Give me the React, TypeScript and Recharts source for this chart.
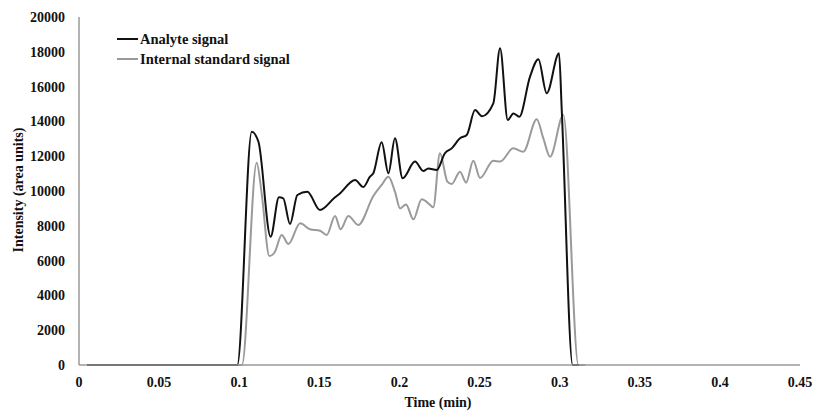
import React from 'react';
import { LineChart, Line, XAxis, YAxis, Label } from 'recharts';

document.body.style.margin = '0';

// analyte (black) trace
const analyteTime = [0.005, 0.0988, 0.1078, 0.112, 0.1196, 0.1248, 0.1275, 0.1317, 0.1363, 0.1425, 0.1504, 0.1598, 0.1625, 0.1723, 0.1775, 0.1816, 0.1837, 0.1889, 0.1931, 0.1972, 0.202, 0.2097, 0.2149, 0.218, 0.2233, 0.2284, 0.2326, 0.2378, 0.242, 0.2472, 0.2515, 0.2586, 0.2628, 0.2676, 0.2711, 0.2748, 0.2815, 0.2867, 0.2919, 0.2996, 0.3013, 0.3081, 0.312];
const analyteIntensity = [0, 0, 13400, 12830, 7370, 9640, 9580, 8100, 9770, 9960, 8910, 9640, 9830, 10630, 10230, 10820, 11020, 12800, 11020, 13030, 10730, 11690, 11150, 11300, 11210, 12170, 12450, 13030, 13220, 14650, 14300, 15040, 18200, 14080, 14460, 14270, 16570, 17570, 15620, 17920, 14650, 0, 0];

// internal standard (grey) trace
const istdTime = [0.005, 0.1017, 0.1109, 0.114, 0.1188, 0.1223, 0.1265, 0.1307, 0.138, 0.1442, 0.1504, 0.1546, 0.1598, 0.1633, 0.1681, 0.1743, 0.1837, 0.1889, 0.1931, 0.1972, 0.2004, 0.2041, 0.2087, 0.2139, 0.2191, 0.2211, 0.2253, 0.2299, 0.2326, 0.2378, 0.2416, 0.2461, 0.2503, 0.2586, 0.2628, 0.2711, 0.2773, 0.2857, 0.2898, 0.294, 0.3023, 0.3117, 0.316];
const istdIntensity = [0, 0, 11630, 9870, 6260, 6510, 7470, 6950, 8140, 7800, 7720, 7470, 8560, 7800, 8560, 8050, 9710, 10350, 10820, 9960, 9000, 9230, 8370, 9520, 9200, 9060, 12170, 10540, 10400, 11110, 10480, 11740, 10750, 11740, 11690, 12450, 12260, 14120, 13030, 11970, 14370, 0, 0];

const xTicks = [0, 0.05, 0.1, 0.15, 0.2, 0.25, 0.3, 0.35, 0.4, 0.45];
const yTicks = [0, 2000, 4000, 6000, 8000, 10000, 12000, 14000, 16000, 18000, 20000];

const legendItems = [
  { name: 'Analyte signal', color: '#111111' },
  { name: 'Internal standard signal', color: '#9a9a9a' },
];

const analyte = analyteTime.map((t, i) => ({ t, v: analyteIntensity[i] }));
const istd = istdTime.map((t, i) => ({ t, v: istdIntensity[i] }));

const FONT = '"Liberation Serif", "Times New Roman", serif';
const tickStyle = { fontFamily: FONT, fontSize: 14, fontWeight: 700, fill: '#111' };

function LegendBox() {
  return (
    <div style={{ position: 'absolute', left: 117, top: 29, fontFamily: FONT, fontWeight: 700, fontSize: 14.5, color: '#111' }}>
      {legendItems.map((it) => (
        <div key={it.name} style={{ display: 'flex', alignItems: 'center', height: 20 }}>
          <span style={{ display: 'inline-block', width: 21, height: 2, background: it.color, marginRight: 2 }} />
          <span>{it.name}</span>
        </div>
      ))}
    </div>
  );
}

export default function App() {
  return (
    <div style={{ position: 'relative', width: 818, height: 412 }}>
      <LineChart width={818} height={412} margin={{ top: 17, right: 18, bottom: 0, left: 0 }}>
        <XAxis
          dataKey="t"
          type="number"
          domain={[0, 0.45]}
          ticks={xTicks}
          tickFormatter={(v) => String(v)}
          allowDataOverflow
          height={47}
          tickLine={false}
          tickSize={0}
          tickMargin={12}
          tick={tickStyle}
          stroke="#9a9a9a"
          strokeWidth={1.5}
        >
          <Label
            content={() => (
              <text x={438} y={407} textAnchor="middle" style={tickStyle}>
                Time (min)
              </text>
            )}
          />
        </XAxis>
        <YAxis
          type="number"
          domain={[0, 20000]}
          ticks={yTicks}
          width={79}
          tickLine={false}
          tickSize={0}
          tickMargin={14}
          tick={tickStyle}
          stroke="#9a9a9a"
          strokeWidth={1.5}
        >
          <Label
            content={() => (
              <text x={23} y={190} textAnchor="middle" transform="rotate(-90 23 190)" style={tickStyle}>
                Intensity (area units)
              </text>
            )}
          />
        </YAxis>
        <Line
          data={istd}
          dataKey="v"
          name="Internal standard signal"
          type="monotone"
          stroke="#9a9a9a"
          strokeWidth={2}
          dot={false}
          isAnimationActive={false}
        />
        <Line
          data={analyte}
          dataKey="v"
          name="Analyte signal"
          type="monotone"
          stroke="#111111"
          strokeWidth={2}
          dot={false}
          isAnimationActive={false}
        />
      </LineChart>
      <LegendBox />
    </div>
  );
}
